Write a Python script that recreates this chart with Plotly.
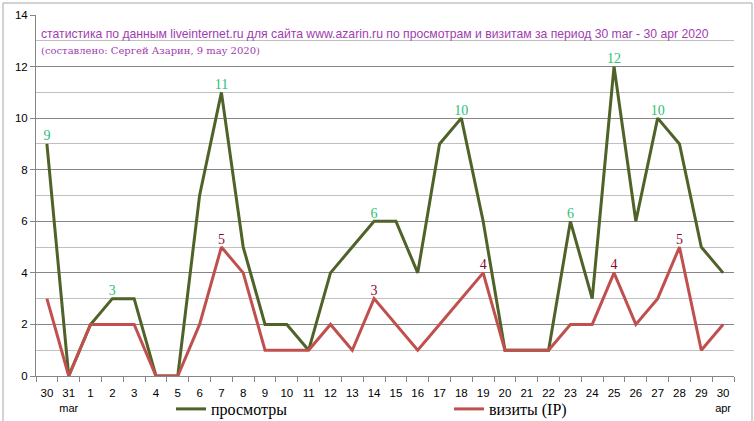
import plotly.graph_objects as go

days = ["30", "31", "1", "2", "3", "4", "5", "6", "7", "8", "9", "10", "11", "12", "13", "14",
        "15", "16", "17", "18", "19", "20", "21", "22", "23", "24", "25", "26", "27", "28", "29", "30"]
month_marks = {1: "mar", 31: "apr"}
views = [9, 0, 2, 3, 3, 0, 0, 7, 11, 5, 2, 2, 1, 4, 5, 6, 6, 4, 9, 10, 6, 1, 1, 1, 6, 3, 12, 6, 10, 9, 5, 4]
visits = [3, 0, 2, 2, 2, 0, 0, 2, 5, 4, 1, 1, 1, 2, 1, 3, 2, 1, 2, 3, 4, 1, 1, 1, 2, 2, 4, 2, 3, 5, 1, 2]
views_labeled = [0, 3, 8, 15, 19, 24, 26, 28]
visits_labeled = [8, 15, 20, 26, 29]

title = "статистика по данным liveinternet.ru для сайта www.azarin.ru по просмотрам и визитам за период 30 mar - 30 apr 2020"
subtitle = "(составлено: Сергей Азарин, 9 may 2020)"

x = list(range(len(days)))
ticktext = []
for i, d in enumerate(days):
    if i in month_marks:
        ticktext.append(d + "<br><span style='font-size:11px'>" + month_marks[i] + "</span>")
    else:
        ticktext.append(d)

views_text = [str(v) if i in views_labeled else "" for i, v in enumerate(views)]
visits_text = [str(v) if i in visits_labeled else "" for i, v in enumerate(visits)]

fig = go.Figure()
fig.add_trace(go.Scatter(
    x=x, y=views, name="просмотры", mode="lines+text",
    line=dict(color="#4f6228", width=3),
    text=views_text, textposition="top center",
    textfont=dict(color="#2bbf72", size=14, family="Liberation Serif"),
    cliponaxis=False, legend="legend",
))
fig.add_trace(go.Scatter(
    x=x, y=visits, name="визиты (IP)", mode="lines+text",
    line=dict(color="#c0504d", width=3),
    text=visits_text, textposition="top center",
    textfont=dict(color="#8b0a2a", size=14, family="Liberation Serif"),
    cliponaxis=False, legend="legend2",
))

legend_common = dict(
    orientation="h", yanchor="middle", xanchor="left",
    font=dict(family="Liberation Serif", size=16, color="#000000"),
    bgcolor="rgba(0,0,0,0)", itemwidth=30,
)

fig.update_layout(
    width=754, height=421,
    margin=dict(l=36, r=20, t=15, b=45, autoexpand=False),
    paper_bgcolor="white", plot_bgcolor="white",
    font=dict(family="Liberation Sans", size=11, color="#000000"),
    showlegend=True,
    legend=dict(x=(171 - 36) / 698, y=(376 - 409) / 361, **legend_common),
    legend2=dict(x=(449 - 36) / 698, y=(376 - 409) / 361, **legend_common),
    xaxis=dict(
        range=[-0.5, 31.5], tickmode="array", tickvals=x, ticktext=ticktext,
        ticks="", showgrid=False, zeroline=False,
        showline=True, linecolor="#868686", linewidth=1,
        tickfont=dict(size=11.5), ticklabelstandoff=6,
        minor=dict(tickmode="linear", tick0=-0.5, dtick=1, ticks="outside",
                   ticklen=5, tickcolor="#868686", showgrid=False),
    ),
    yaxis=dict(
        range=[0, 14], tickmode="linear", tick0=0, dtick=2,
        showgrid=True, gridcolor="#868686", gridwidth=1,
        zeroline=False, showline=True, linecolor="#868686", linewidth=1,
        ticks="outside", ticklen=5, tickcolor="#868686",
        tickfont=dict(size=11.5),
        minor=dict(tick0=1, dtick=2, showgrid=True, gridcolor="#c0c0c0", gridwidth=1, ticks=""),
    ),
    annotations=[
        dict(text=title, xref="paper", yref="y", x=0.005, y=13.28, xanchor="left", yanchor="middle",
             showarrow=False, font=dict(family="Liberation Sans", size=12.2, color="#a03cb0")),
        dict(text=subtitle, xref="paper", yref="y", x=0.005, y=12.62, xanchor="left", yanchor="middle",
             showarrow=False, font=dict(family="DejaVu Serif", size=10, color="#a03cb0")),
    ],
    shapes=[
        dict(type="rect", xref="paper", yref="paper",
             x0=(3 - 36) / 698, x1=(752 - 36) / 698, y0=-0.2, y1=(376 - 3) / 361,
             line=dict(color="#a6a6a6", width=1), fillcolor="rgba(0,0,0,0)", layer="below"),
    ],
)

fig.write_html("out.html")
